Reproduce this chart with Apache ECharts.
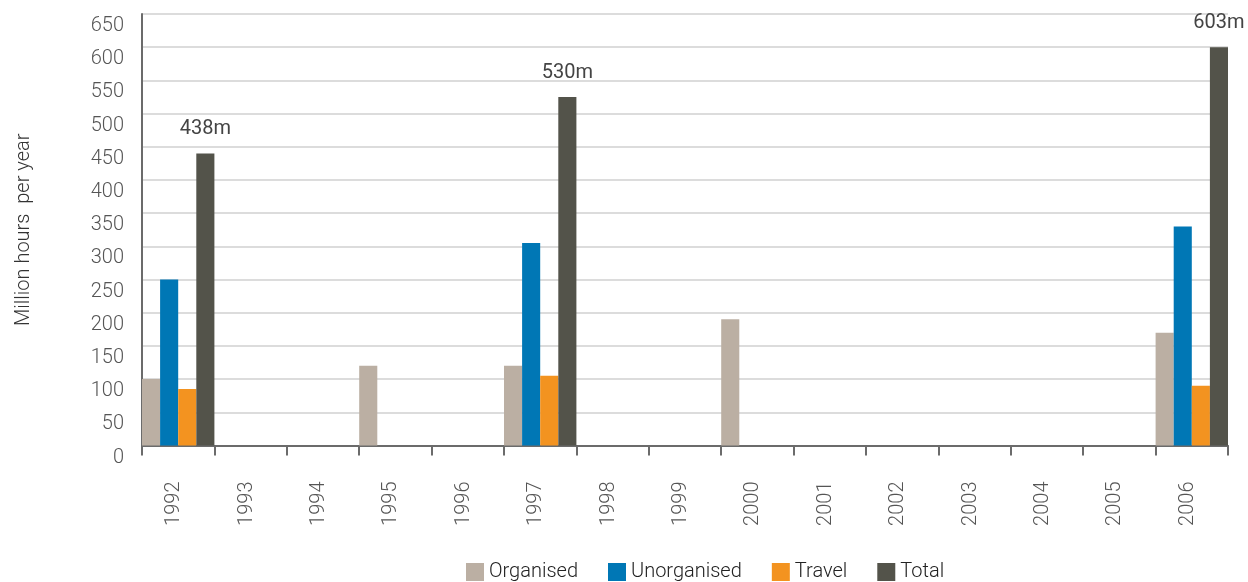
<!DOCTYPE html>
<html>
<head>
<meta charset="utf-8">
<script src="https://cdn.jsdelivr.net/npm/echarts@6/dist/echarts.min.js"></script>
<style>
html,body{margin:0;padding:0;background:#fff;}
#chart{width:1248px;height:582px;}
</style>
</head>
<body>
<div id="chart"></div>
<script>
var years = ['1992','1993','1994','1995','1996','1997','1998','1999','2000','2001','2002','2003','2004','2005','2006'];
var organised   = [100, null, null, 120, null, 120, null, null, 190, null, null, null, null, null, 170];
var unorganised = [250, null, null, null, null, 305, null, null, null, null, null, null, null, null, 330];
var travel      = [85,  null, null, null, null, 105, null, null, null, null, null, null, null, null, 90];
var total       = [440, null, null, null, null, 525, null, null, null, null, null, null, null, null, 600];
var totalLabels = ['438m', '', '', '', '', '530m', '', '', '', '', '', '', '', '', '603m'];
var seriesNames = ['Organised', 'Unorganised', 'Travel', 'Total'];
var colors = ['#bbafa3', '#0077b5', '#f39320', '#53534a'];

var FONT = 'Roboto, "Liberation Sans", sans-serif';
var chart = echarts.init(document.getElementById('chart'), null, {renderer: 'canvas'});

function bar(name, data, color, extra) {
  var s = {
    name: name, type: 'bar', data: data,
    barGap: '0%', barCategoryGap: '0%',
    itemStyle: {color: color},
    animation: false
  };
  if (extra) for (var k in extra) s[k] = extra[k];
  return s;
}

chart.setOption({
  animation: false,
  color: colors,
  grid: {left: 142, right: 20, top: 14, bottom: 136.5, containLabel: false, outerBoundsMode: 'none'},
  legend: {
    left: 461, top: 557,
    itemWidth: 18, itemHeight: 18, itemGap: 30,
    icon: 'rect',
    textStyle: {fontFamily: FONT, fontWeight: 300, fontSize: 20, color: '#222'},
    data: seriesNames
  },
  xAxis: {
    type: 'category',
    data: years,
    axisLine: {lineStyle: {color: '#6b6b6b', width: 2}},
    axisTick: {show: true, length: 10, lineStyle: {color: '#6b6b6b', width: 2}},
    axisLabel: {
      rotate: 90, margin: 36, fontFamily: FONT, fontWeight: 300, fontSize: 20, color: '#555',
      verticalAlign: 'bottom', lineHeight: 8
    },
    splitLine: {show: false}
  },
  yAxis: {
    type: 'value',
    min: 0, max: 650, interval: 50,
    name: 'Million hours  per year',
    nameLocation: 'middle',
    nameGap: 108,
    nameTextStyle: {fontFamily: FONT, fontWeight: 300, fontSize: 20, color: '#333'},
    axisLine: {show: true, lineStyle: {color: '#6b6b6b', width: 2}},
    axisTick: {show: false},
    axisLabel: {margin: 18, fontFamily: FONT, fontWeight: 300, fontSize: 20, color: '#555',
      verticalAlign: 'top', lineHeight: 24},
    splitLine: {show: true, lineStyle: {color: '#dcdcdc', width: 2}}
  },
  series: [
    bar(seriesNames[0], organised, colors[0]),
    bar(seriesNames[1], unorganised, colors[1]),
    bar(seriesNames[2], travel, colors[2]),
    bar(seriesNames[3], total, colors[3], {
      label: {
        show: true, position: 'top', distance: 14,
        fontFamily: FONT, fontSize: 20, fontWeight: 400, color: '#444',
        formatter: function (p) { return totalLabels[p.dataIndex]; }
      }
    })
  ]
});
</script>
</body>
</html>
